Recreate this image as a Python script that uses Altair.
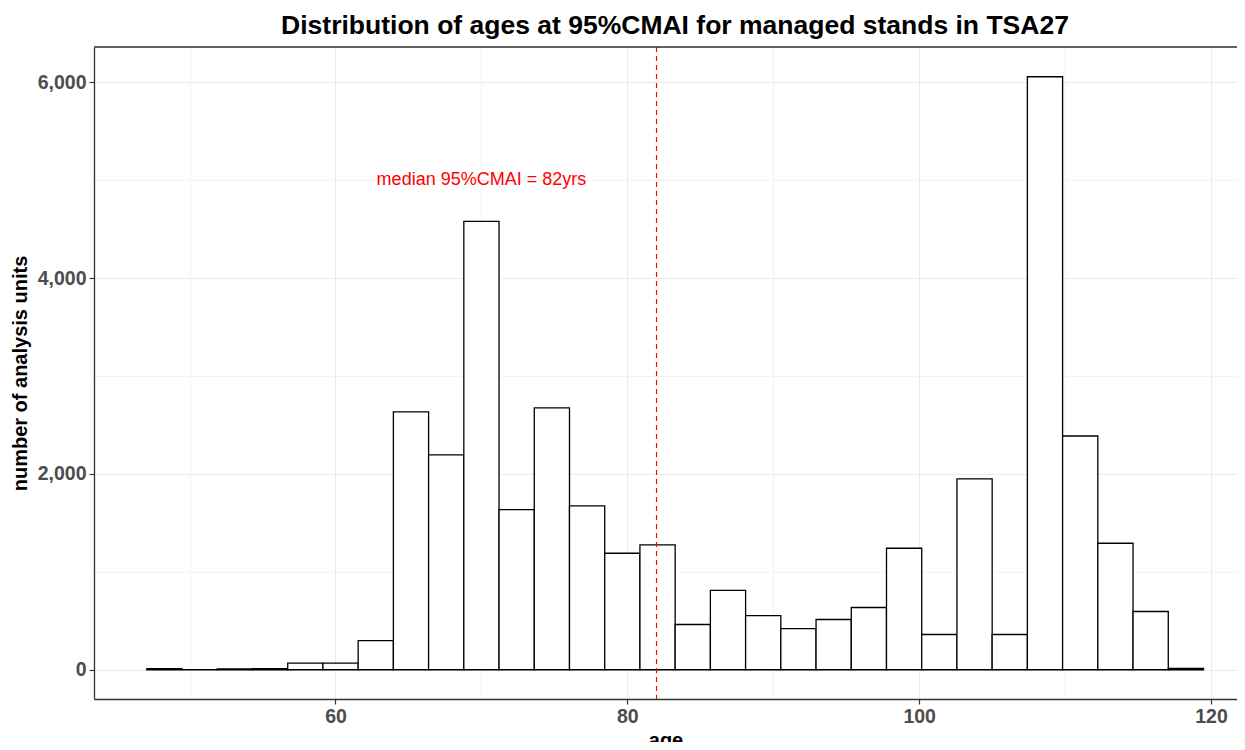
import altair as alt
import pandas as pd

# histogram data
bin_start = 47.07
bin_width = 2.4138
counts = [12, 0, 8, 10, 68, 68, 298, 2635, 2195, 4580, 1635, 2675, 1675, 1190,
          1275, 462, 810, 553, 420, 513, 636, 1241, 360, 1949, 360, 6058, 2388,
          1292, 595, 14]
median_age = 82
label_text = "median 95%CMAI = 82yrs"
label_x = [70]
label_y = [5000]
x_ticks = [50, 60, 70, 80, 90, 100, 110, 120]
y_ticks = [0, 1000, 2000, 3000, 4000, 5000, 6000]

df = pd.DataFrame({
    "start": [bin_start + i * bin_width for i in range(len(counts))],
    "end": [bin_start + (i + 1) * bin_width for i in range(len(counts))],
    "count": counts,
})
df["zero"] = 0

W, H = 1143, 652
FONT = "Liberation Sans"

xscale = alt.Scale(domain=[43.45, 121.78], nice=False, zero=False)
yscale = alt.Scale(domain=[-299, 6362], nice=False, zero=False)

xaxis = alt.Axis(
    values=x_ticks, title="age", labelExpr="datum.value % 20 == 0 ? datum.label : ''",
    grid=True, gridColor="#EBEBEB",
    gridWidth={"condition": {"test": "datum.value % 20 != 0", "value": 0.6}, "value": 1.1},
    tickOpacity={"condition": {"test": "datum.value % 20 != 0", "value": 0}, "value": 1},
    tickColor="#333333", tickSize=5, tickWidth=1.2,
    domain=True, domainColor="#333333", domainWidth=1.3,
    labelFont=FONT, labelFontSize=19.5, labelFontWeight="bold", labelColor="#4D4D4D",
    labelPadding=3,
    titleFont=FONT, titleFontSize=20, titleFontWeight="bold", titleColor="black",
    titlePadding=5,
)
yaxis = alt.Axis(
    values=y_ticks, title="number of analysis units",
    labelExpr="datum.value % 2000 == 0 ? format(datum.value, ',') : ''",
    grid=True, gridColor="#EBEBEB",
    gridWidth={"condition": {"test": "datum.value % 2000 != 0", "value": 0.6}, "value": 1.1},
    tickOpacity={"condition": {"test": "datum.value % 2000 != 0", "value": 0}, "value": 1},
    tickColor="#333333", tickSize=5, tickWidth=1.2,
    domain=True, domainColor="#333333", domainWidth=1.3,
    labelFont=FONT, labelFontSize=19.5, labelFontWeight="bold", labelColor="#4D4D4D",
    labelPadding=3,
    titleFont=FONT, titleFontSize=20, titleFontWeight="bold", titleColor="black",
    titlePadding=7,
)

bars = alt.Chart(df).mark_rect(fill="white", stroke="black", strokeWidth=1.3).encode(
    x=alt.X("start:Q", scale=xscale, axis=xaxis),
    x2="end:Q",
    y=alt.Y("count:Q", scale=yscale, axis=yaxis),
    y2="zero:Q",
)

median_df = pd.DataFrame({"age": [median_age]})
median_rule = alt.Chart(median_df).mark_rule(
    color="#FF0000", strokeDash=[5, 4], strokeWidth=1.2
).encode(x=alt.X("age:Q", scale=xscale), y=alt.value(0), y2=alt.value(H))

text_df = pd.DataFrame({"x": label_x, "y": label_y, "t": [label_text]})
label = alt.Chart(text_df).mark_text(
    color="#FF0000", font=FONT, fontSize=18, align="center", baseline="middle"
).encode(x=alt.X("x:Q", scale=xscale), y=alt.Y("y:Q", scale=yscale), text="t:N")

top_border = alt.Chart(median_df).mark_rule(color="#333333", strokeWidth=1.3).encode(
    x=alt.value(0), x2=alt.value(W + 20), y=alt.value(0)
)

chart = alt.layer(bars, median_rule, label, top_border).properties(
    width=W, height=H,
    title=alt.TitleParams(
        "Distribution of ages at 95%CMAI for managed stands in TSA27",
        font=FONT, fontSize=26.5, fontWeight="bold", color="black",
        anchor="middle", offset=7, dx=9.5,
    ),
    autosize=alt.AutoSizeParams(type="none"),
    padding={"left": 86, "top": 39, "right": 0, "bottom": 43},
).configure_view(stroke=None).configure(background="white")

chart.save("out.html", embed_options={"renderer": "svg", "actions": False})
